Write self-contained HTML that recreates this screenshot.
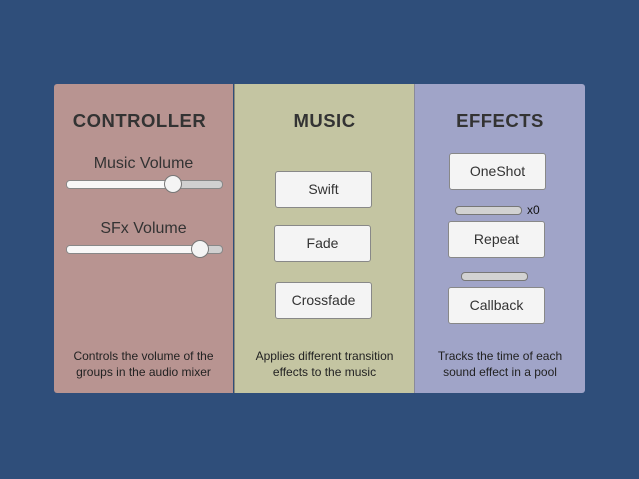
<html><head><style>
body{margin:0;width:639px;height:479px;background:#2f4e7a;position:relative;font-family:"Liberation Sans","DejaVu Sans",sans-serif;overflow:hidden}
.col{position:absolute;top:84px;height:309px}
.t{position:absolute;font-weight:bold;font-size:18.5px;color:#333;text-align:center;width:100%;top:26px;letter-spacing:.5px}
.d{position:absolute;font-size:12px;color:#222;text-align:center;width:100%;top:264px;line-height:16px}
.b{position:absolute;background:#f4f4f4;border:1px solid #888;border-radius:3px;box-sizing:border-box;font-size:14px;color:#333;text-align:center;line-height:34px;width:97px;height:37px}
.l{position:absolute;font-size:16px;color:#333;text-align:center;width:100%}
.tr{position:absolute;height:7px;background:#d0d0d0;border:1px solid #888;border-radius:4px;overflow:hidden}
.f{position:absolute;left:0;top:0;bottom:0;background:#f8f8f8}
.th{position:absolute;width:18px;height:18px;border-radius:50%;background:#f4f4f4;border:1px solid #777;box-sizing:border-box}
.bar{position:absolute;height:7px;background:#d2d2d2;border:1px solid #777;border-radius:4px}
</style></head><body>
<div class="col" style="left:54px;width:179px;background:#b89491;border-radius:3px 0 0 3px">
<div class="t" style="left:-4px">CONTROLLER</div>
<div class="l" style="top:71px">Music Volume</div>
<div class="tr" style="left:12px;top:96px;width:155px"><div class="f" style="width:108px"></div></div>
<div class="th" style="left:110px;top:91px"></div>
<div class="l" style="top:136px">SFx Volume</div>
<div class="tr" style="left:12px;top:161px;width:155px"><div class="f" style="width:136px"></div></div>
<div class="th" style="left:137px;top:156px"></div>
<div class="d">Controls the volume of the<br>groups in the audio mixer</div>
</div>
<div class="col" style="left:234px;width:179px;background:#c4c5a2;border-left:1px solid #8a8a7a">
<div class="t">MUSIC</div>
<div class="b" style="left:40px;top:87px">Swift</div>
<div class="b" style="left:39px;top:141px">Fade</div>
<div class="b" style="left:40px;top:198px">Crossfade</div>
<div class="d">Applies different transition<br>effects to the music</div>
</div>
<div class="col" style="left:414px;width:170px;background:#a0a4c8;border-left:1px solid #8a8a9a;border-radius:0 3px 3px 0">
<div class="t">EFFECTS</div>
<div class="b" style="left:34px;top:69px">OneShot</div>
<div class="bar" style="left:40px;top:122px;width:65px"></div>
<div style="position:absolute;left:112px;top:119px;font-size:12px;color:#111">x0</div>
<div class="b" style="left:33px;top:137px">Repeat</div>
<div class="bar" style="left:46px;top:188px;width:65px"></div>
<div class="b" style="left:33px;top:203px">Callback</div>
<div class="d">Tracks the time of each<br>sound effect in a pool</div>
</div>
</body></html>
